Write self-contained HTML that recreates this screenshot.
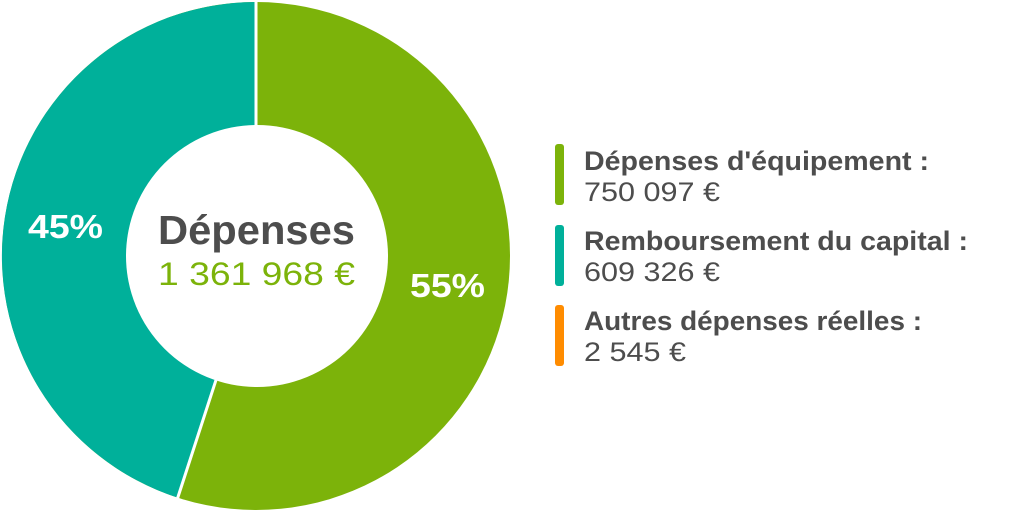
<!DOCTYPE html>
<html><head><meta charset="utf-8"><style>
html,body{margin:0;padding:0;background:#fff;width:1024px;height:512px;overflow:hidden}
svg{display:block}
</style></head><body>
<svg width="1024" height="512" viewBox="0 0 1024 512" xmlns="http://www.w3.org/2000/svg">
<circle cx="256" cy="256" r="254" fill="#7cb30a"/>
<path d="M256,256 L256,2 A254,254 0 0 0 177.5,497.6 Z" fill="#00b09a"/>
<line x1="256" y1="0" x2="256" y2="130" stroke="#fff" stroke-width="3"/>
<line x1="216" y1="380" x2="177" y2="500" stroke="#fff" stroke-width="3"/>
<circle cx="257" cy="256" r="131" fill="#fff"/>
<g font-family="Liberation Sans, sans-serif" lengthAdjust="spacingAndGlyphs">
<text x="158" y="244" font-size="41" font-weight="bold" fill="#4d4d4d" textLength="197" lengthAdjust="spacingAndGlyphs">Dépenses</text>
<text x="158" y="285" font-size="32" fill="#7cb30a" textLength="197" lengthAdjust="spacingAndGlyphs">1 361 968 €</text>
<text x="28" y="238" font-size="33" font-weight="bold" fill="#fff" textLength="75" lengthAdjust="spacingAndGlyphs">45%</text>
<text x="410" y="297" font-size="33" font-weight="bold" fill="#fff" textLength="75" lengthAdjust="spacingAndGlyphs">55%</text>
<rect x="555" y="144" width="9" height="61" rx="3" fill="#7cb30a"/>
<rect x="555" y="225" width="9" height="61" rx="3" fill="#00b09a"/>
<rect x="555" y="305" width="9" height="61" rx="3" fill="#ff8c00"/>
<g font-size="27" fill="#4d4d4d">
<text x="584" y="170" font-weight="bold" textLength="345" lengthAdjust="spacingAndGlyphs">Dépenses d'équipement :</text>
<text x="584" y="201" textLength="136" lengthAdjust="spacingAndGlyphs">750 097 €</text>
<text x="584" y="250" font-weight="bold" textLength="384" lengthAdjust="spacingAndGlyphs">Remboursement du capital :</text>
<text x="584" y="281" textLength="136" lengthAdjust="spacingAndGlyphs">609 326 €</text>
<text x="584" y="330" font-weight="bold" textLength="338" lengthAdjust="spacingAndGlyphs">Autres dépenses réelles :</text>
<text x="584" y="361" textLength="102" lengthAdjust="spacingAndGlyphs">2 545 €</text>
</g>
</g>
</svg>
</body></html>
